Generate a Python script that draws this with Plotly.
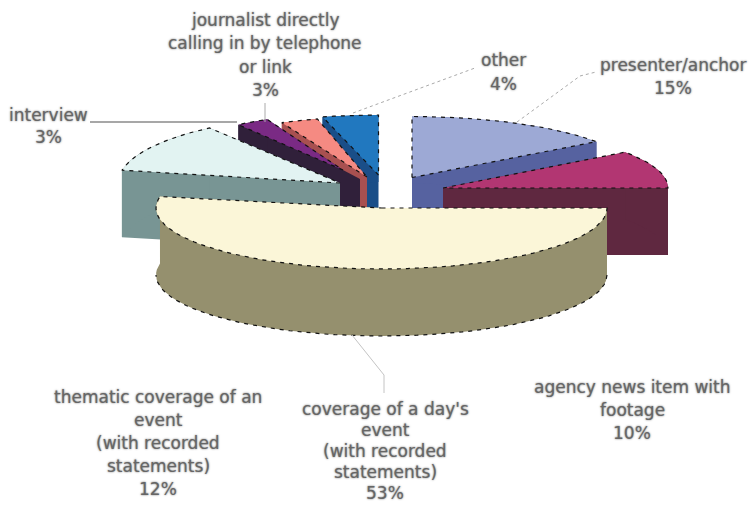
import math
import plotly.graph_objects as go

# ---- data ----
categories = ["presenter/anchor", "agency news item with footage", "coverage of a day's event (with recorded statements)",
              "thematic coverage of an event (with recorded statements)", "interview",
              "journalist directly calling in by telephone or link", "other"]
values = [15, 10, 53, 12, 3, 3, 4]
top_colors = ["#9DA9D5", "#B23672", "#FBF6D8", "#E2F3F2", "#7A2A84", "#F58A82", "#2178BF"]
side_colors = ["#5662A0", "#5F2840", "#95906E", "#789594", "#30203A", "#A85050", "#1A4E88"]

# apex x, apex y, radius x, radius y (perspective differs per exploded slice)
geometry = [(412, 177.5, 228, 61), (443, 188, 225, 61), (381.5, 208, 225.5, 61),
            (340, 183, 222, 68), (343, 170, 178, 56), (367, 177, 200, 60), (378.5, 175, 225, 60)]
depth = 67

labels = [
    (265, 20, 23.3, ["journalist directly", "calling in by telephone", "or link", "3%"]),
    (503, 60, 24, ["other", "4%"]),
    (673, 65, 23, ["presenter/anchor", "15%"]),
    (48, 115, 22, ["interview", "3%"]),
    (632, 387, 23, ["agency news item with", "footage", "10%"]),
    (158, 397, 23, ["thematic coverage of an", "event", "(with recorded", "statements)", "12%"]),
    (385, 409, 21, ["coverage of a day's", "event", "(with recorded", "statements)", "53%"]),
]
leaders = [
    ([90, 237], [122, 122], "#8a8a8a", 1.6, "solid"),
    ([265, 265], [103, 122], "#aaaaaa", 1, "solid"),
    ([353, 475], [113, 68], "#aaaaaa", 1, "dot"),
    ([517, 580, 596], [122, 76, 72], "#aaaaaa", 1, "dot"),
    ([352, 384, 384], [335, 375, 393], "#c4c4c4", 1, "solid"),
]
interview_inner_x = [343, 360, 360, 343]
interview_inner_y = [170, 179, 212, 212]

# ---- slice angles from the values ----
total = sum(values)
angles = []
run = 0
for v in values:
    angles.append((run / total * 2 * math.pi, (run + v) / total * 2 * math.pi))
    run += v


def arc(i, n=60, a_max=None):
    cx, cy, rx, ry = geometry[i]
    a0, a1 = angles[i]
    if a_max is not None:
        a1 = min(a1, a_max)
    steps = max(2, int(n * (a1 - a0) / math.pi) + 2)
    ts = [a0 + (a1 - a0) * k / (steps - 1) for k in range(steps)]
    return [cx + rx * math.sin(t) for t in ts], [cy - ry * math.cos(t) for t in ts]


fig = go.Figure()
DASH = dict(color="#111111", width=1.2, dash="4px,5px")


def poly(xs, ys, color):
    fig.add_trace(go.Scatter(x=xs, y=ys, mode="lines", fill="toself", fillcolor=color,
                             line=dict(width=0), hoverinfo="skip", showlegend=False))


def draw_side(i):
    cx, cy, _, _ = geometry[i]
    ax, ay = arc(i)
    c = side_colors[i]
    for px, py in ((ax[0], ay[0]), (ax[-1], ay[-1])):
        poly([cx, px, px, cx], [cy, py, py + depth, cy + depth], c)
    poly(ax + ax[::-1], ay + [y + depth for y in ay[::-1]], c)


def draw_top(i):
    cx, cy, _, _ = geometry[i]
    ax, ay = arc(i)
    poly([cx] + ax + [cx], [cy] + ay + [cy], top_colors[i])
    fig.add_trace(go.Scatter(x=[cx] + ax + [cx], y=[cy] + ay + [cy], mode="lines", line=DASH,
                             hoverinfo="skip", showlegend=False))


def draw_wall_outline(i):
    ax, ay = arc(i, a_max=1.5 * math.pi)
    fig.add_trace(go.Scatter(x=ax, y=[y + depth for y in ay], mode="lines", line=DASH,
                             hoverinfo="skip", showlegend=False))


# back to front: other, journalist, interview, thematic, presenter, agency, coverage
draw_side(6); draw_top(6)
draw_side(5); draw_top(5)
draw_side(4)
poly(interview_inner_x, interview_inner_y, side_colors[4])
draw_side(3); draw_top(3)
draw_top(4)
draw_side(0); draw_top(0)
draw_side(1); draw_top(1)
draw_side(2); draw_top(2)
draw_wall_outline(2)

for xs, ys, col, w, dash in leaders:
    fig.add_trace(go.Scatter(x=xs, y=ys, mode="lines", line=dict(color=col, width=w, dash=dash),
                             hoverinfo="skip", showlegend=False))

anns = []
for cx, y0, pitch, lines in labels:
    for k, line in enumerate(lines):
        anns.append(dict(x=cx, y=y0 + k * pitch, xref="x", yref="y", text=line, showarrow=False,
                         xanchor="center", yanchor="middle",
                         font=dict(family="DejaVu Sans", size=17, color="#666666",
                                   shadow="0px 0px 2px #666666")))

fig.update_layout(width=751, height=505, margin=dict(l=0, r=0, t=0, b=0),
                  paper_bgcolor="white", plot_bgcolor="white", annotations=anns,
                  xaxis=dict(range=[0, 751], visible=False, fixedrange=True),
                  yaxis=dict(range=[505, 0], visible=False, fixedrange=True))

fig.write_html("out.html", config={"displayModeBar": False},
               post_script="document.body.style.margin='0';")
